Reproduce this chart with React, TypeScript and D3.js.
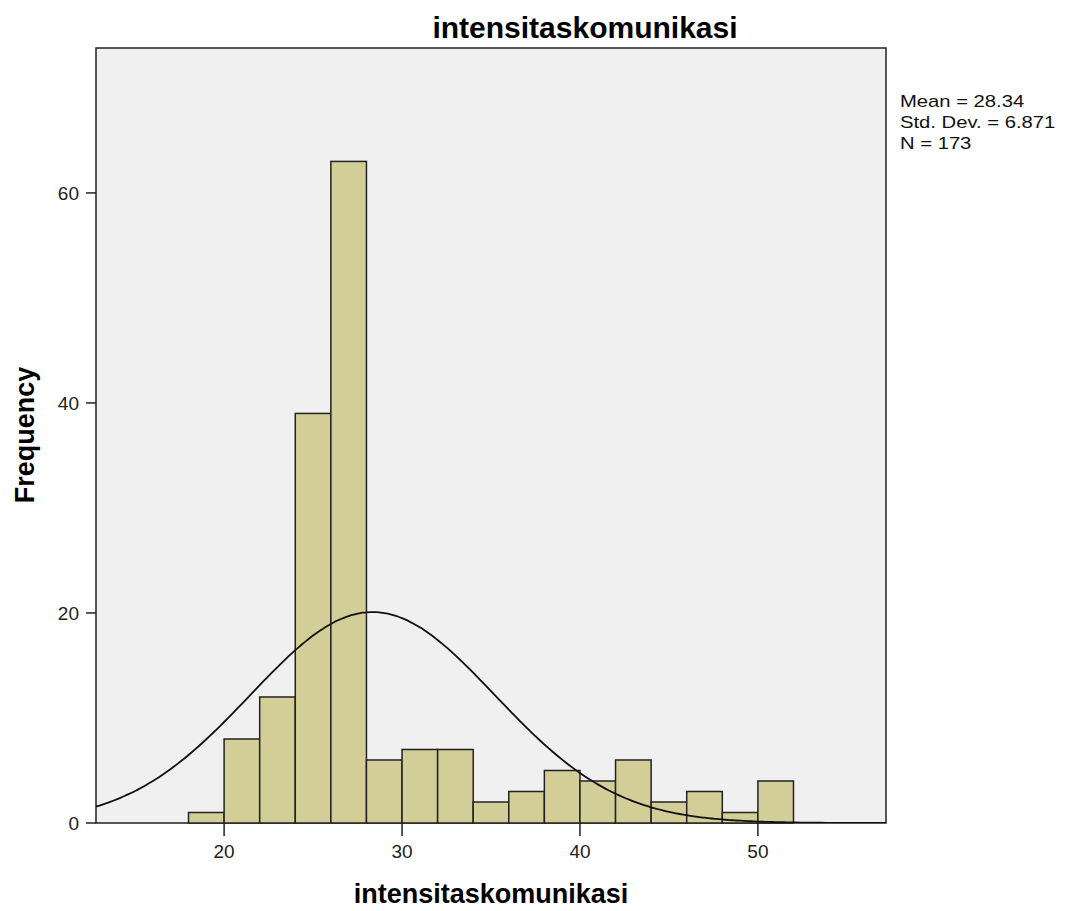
import React from 'react';
import * as d3 from 'd3';

// bin lower edges (bin width 2) and counts
const binStarts = [18, 20, 22, 24, 26, 28, 30, 32, 34, 36, 38, 40, 42, 44, 46, 48, 50];
const binCounts = [1, 8, 12, 39, 63, 6, 7, 7, 2, 3, 5, 4, 6, 2, 3, 1, 4];
const binWidth = 2;

const xTicks = [20, 30, 40, 50];
const yTicks = [0, 20, 40, 60];

const statMean = 28.34;
const statSd = 6.871;
const statN = 173;
const statLines = ['Mean = 28.34', 'Std. Dev. = 6.871', 'N = 173'];

const W = 1066;
const H = 911;
const plot = { left: 96, top: 48, right: 886, bottom: 823 };

const App: React.FC = () => {
  const x = d3.scaleLinear().domain([12.8, 57.2]).range([plot.left, plot.right]);
  const y = d3.scaleLinear().domain([0, 73.8]).range([plot.bottom, plot.top]);

  // fitted normal curve scaled to counts
  const scaleFactor = statN * binWidth;
  const pdf = (v: number) =>
    (scaleFactor / (statSd * Math.sqrt(2 * Math.PI))) *
    Math.exp(-((v - statMean) ** 2) / (2 * statSd * statSd));
  const curvePts = d3.range(12.8, 57.21, 0.2).map(v => [v, pdf(v)] as [number, number]);
  const line = d3.line<[number, number]>()
    .x(d => x(d[0]))
    .y(d => y(d[1]))
    .curve(d3.curveBasis);

  const font = '"Liberation Sans", Arial, sans-serif';

  return (
    <svg width={W} height={H} style={{ display: 'block', margin: '-8px', background: '#fff' }}>
      <defs>
        <clipPath id="plotclip">
          <rect x={plot.left} y={plot.top} width={plot.right - plot.left} height={plot.bottom - plot.top} />
        </clipPath>
      </defs>

      <text x={585} y={38} textAnchor="middle" fontFamily={font} fontWeight="bold" fontSize={30} fill="#000">
        intensitaskomunikasi
      </text>

      <rect
        x={plot.left}
        y={plot.top}
        width={plot.right - plot.left}
        height={plot.bottom - plot.top}
        fill="#f0f0f0"
        stroke="#222"
        strokeWidth={1.5}
      />

      {binStarts.map((s, i) => (
        <rect
          key={s}
          x={x(s)}
          y={y(binCounts[i])}
          width={x(s + binWidth) - x(s)}
          height={y(0) - y(binCounts[i])}
          fill="#d3ce97"
          stroke="#222"
          strokeWidth={1.5}
        />
      ))}

      <path d={line(curvePts) || ''} fill="none" stroke="#111" strokeWidth={1.8} clipPath="url(#plotclip)" />

      {/* y axis ticks */}
      {yTicks.map(t => (
        <g key={t}>
          <line x1={plot.left - 10} x2={plot.left} y1={y(t)} y2={y(t)} stroke="#222" strokeWidth={1.5} />
          <text x={plot.left - 17} y={y(t)} dy="0.35em" textAnchor="end" fontFamily={font} fontSize={19} fill="#222">
            {t}
          </text>
        </g>
      ))}

      {/* x axis ticks */}
      {xTicks.map(t => (
        <g key={t}>
          <line x1={x(t)} x2={x(t)} y1={plot.bottom} y2={plot.bottom + 13} stroke="#222" strokeWidth={1.5} />
          <text x={x(t)} y={858} textAnchor="middle" fontFamily={font} fontSize={19} fill="#222">
            {t}
          </text>
        </g>
      ))}

      <text x={491} y={903} textAnchor="middle" fontFamily={font} fontWeight="bold" fontSize={27} fill="#000">
        intensitaskomunikasi
      </text>

      <text
        transform={`translate(34, 435) rotate(-90)`}
        textAnchor="middle"
        fontFamily={font}
        fontWeight="bold"
        fontSize={27}
        fill="#000"
      >
        Frequency
      </text>

      <g transform="translate(900,0) scale(1.19,1)">
        {statLines.map((s, i) => (
          <text key={s} x={0} y={107 + i * 21} fontFamily={font} fontSize={17} fill="#111">
            {s}
          </text>
        ))}
      </g>
    </svg>
  );
};

export default App;
